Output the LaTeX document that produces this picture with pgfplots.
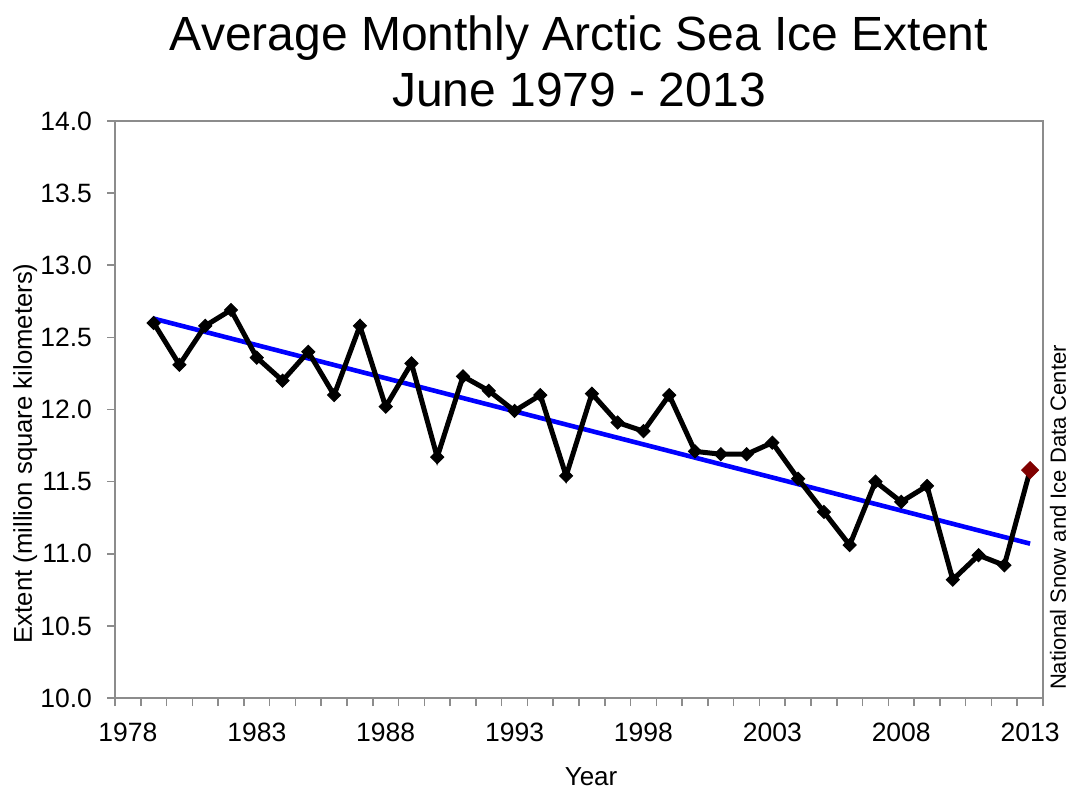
\documentclass[border=0pt]{standalone}
\usepackage{pgfplots}
\pgfplotsset{compat=1.18}
\usepackage{fontspec}
\setmainfont{Liberation Sans}
\definecolor{axisgray}{RGB}{140,140,140}
\definecolor{darkred}{RGB}{128,0,0}
\begin{document}
\begin{tikzpicture}
\begin{axis}[
  name=ax,
  scale only axis,
  width=464pt, height=288.5pt,
  xmin=1977.5, xmax=2013.5,
  ymin=10, ymax=14,
  xtick={1977.5,1978.5,...,2013.5},
  xticklabels={},
  extra x ticks={1978,1983,1988,1993,1998,2003,2008,2013},
  extra x tick labels={1978,1983,1988,1993,1998,2003,2008,2013},
  extra x tick style={tick style={draw=none}, xticklabel style={yshift=-5pt}},
  ytick={10,10.5,...,14},
  tick align=outside,
  xtick pos=bottom, ytick pos=left,
  major tick length=4pt,
  axis line style={axisgray, line width=0.8pt},
  every tick/.style={axisgray, line width=0.8pt},
  /pgf/number format/assume math mode=true,
  ticklabel style={font=\fontsize{13.25}{15}\selectfont},
  yticklabel style={/pgf/number format/fixed, /pgf/number format/fixed zerofill, /pgf/number format/precision=1, xshift=-4pt},
  xlabel={Year},
  ylabel={Extent (million square kilometers)},
  xlabel style={at={([yshift=-43.5pt]axis description cs:0.513,0)}, anchor=base, font=\fontsize{13}{15}\selectfont},
  ylabel style={at={([xshift=-41.5pt]axis description cs:0,0.424)}, anchor=base, rotate=0, font=\fontsize{12.85}{15}\selectfont},
  clip=false,
]
\addplot[blue, line width=2.3pt, no markers] coordinates {(1979,12.63) (2013,11.07)};
\addplot[black, line width=2.5pt, mark=square*, mark size=2.3pt, mark options={rotate=45, line width=0.5pt}] coordinates {
(1979,12.60) (1980,12.31) (1981,12.58) (1982,12.69) (1983,12.36) (1984,12.20)
(1985,12.40) (1986,12.10) (1987,12.58) (1988,12.02) (1989,12.32) (1990,11.67)
(1991,12.23) (1992,12.13) (1993,11.99) (1994,12.10) (1995,11.54) (1996,12.11)
(1997,11.91) (1998,11.85) (1999,12.10) (2000,11.71) (2001,11.69) (2002,11.69)
(2003,11.77) (2004,11.52) (2005,11.29) (2006,11.06) (2007,11.50) (2008,11.36)
(2009,11.47) (2010,10.82) (2011,10.99) (2012,10.92) (2013,11.58)};
\addplot[darkred, only marks, mark=square*, mark size=3pt, mark options={rotate=45, fill=darkred}] coordinates {(2013,11.58)};
\node[anchor=base, font=\fontsize{24}{28}\selectfont] at ([yshift=35.5pt]rel axis cs:0.5,1) {Average Monthly Arctic Sea Ice Extent};
\node[anchor=base, font=\fontsize{24}{28}\selectfont] at ([yshift=7.5pt]rel axis cs:0.5,1) {June 1979 - 2013};
\node[rotate=90, anchor=center, font=\fontsize{11}{13}\selectfont] at ([xshift=7.5pt]rel axis cs:1,0.3128) {National Snow and Ice Data Center};
\end{axis}
\pgfresetboundingbox
\path[use as bounding box] ([shift={(-57.5pt,-51pt)}]ax.south west) rectangle ([shift={(482.5pt,349pt)}]ax.south west);
\end{tikzpicture}
\end{document}
